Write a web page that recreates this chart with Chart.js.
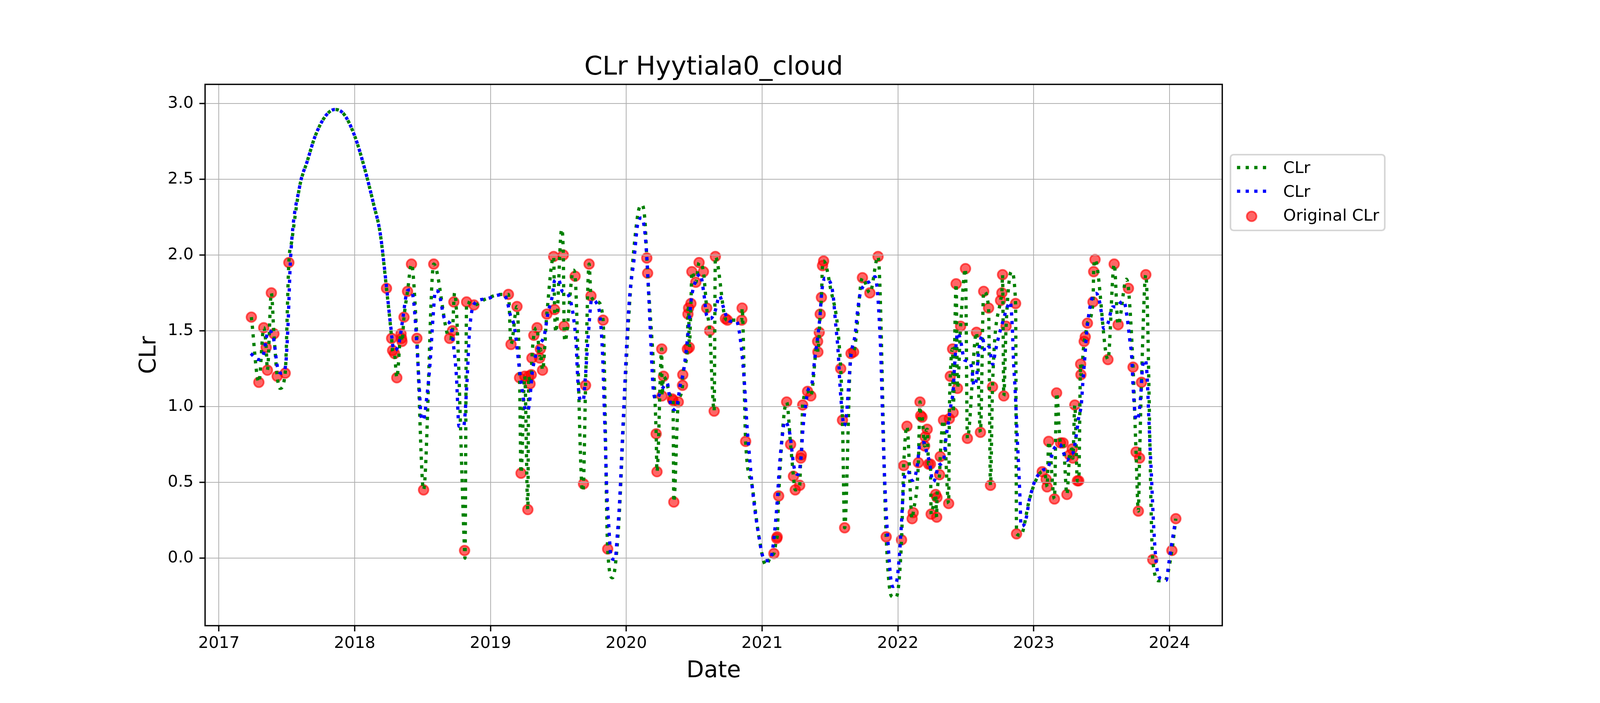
<!DOCTYPE html>
<html>
<head>
<meta charset="utf-8">
<title>CLr Hyytiala0_cloud</title>
<script src="https://cdn.jsdelivr.net/npm/chart.js@4.4.1/dist/chart.umd.min.js"></script>
<style>
  html, body { margin: 0; padding: 0; background: #ffffff; }
  canvas { display: block; }
</style>
</head>
<body>
<canvas id="clr-chart" width="4200" height="1800"></canvas>
<script>
// Original CLr samples, dates as decimal years
const origDates = [
  2017.239, 2017.294, 2017.330, 2017.348, 2017.357, 2017.386, 2017.405, 2017.429, 2017.488, 2017.515,
  2018.234, 2018.272, 2018.279, 2018.293, 2018.310, 2018.341, 2018.345, 2018.348, 2018.363, 2018.389,
  2018.418, 2018.458, 2018.507, 2018.582, 2018.699, 2018.720, 2018.730, 2018.809, 2018.824, 2018.878,
  2019.132, 2019.151, 2019.195, 2019.214, 2019.225, 2019.252, 2019.275, 2019.281, 2019.291, 2019.300,
  2019.305, 2019.319, 2019.343, 2019.362, 2019.367, 2019.383, 2019.415, 2019.465, 2019.472, 2019.536,
  2019.542, 2019.623, 2019.685, 2019.700, 2019.726, 2019.740, 2019.829, 2019.863,
  2020.151, 2020.157, 2020.220, 2020.226, 2020.261, 2020.263, 2020.274, 2020.339, 2020.344, 2020.350,
  2020.383, 2020.414, 2020.416, 2020.450, 2020.454, 2020.459, 2020.464, 2020.476, 2020.483, 2020.512,
  2020.536, 2020.568, 2020.592, 2020.614, 2020.647, 2020.656, 2020.730, 2020.745, 2020.850, 2020.853, 2020.879,
  2021.087, 2021.108, 2021.111, 2021.122, 2021.181, 2021.210, 2021.231, 2021.244, 2021.277, 2021.285,
  2021.289, 2021.299, 2021.335, 2021.359, 2021.409, 2021.411, 2021.421, 2021.428, 2021.437, 2021.445,
  2021.453, 2021.579, 2021.592, 2021.608, 2021.655, 2021.674, 2021.739, 2021.794, 2021.854, 2021.914,
  2022.027, 2022.043, 2022.067, 2022.105, 2022.113, 2022.151, 2022.163, 2022.168, 2022.178, 2022.197,
  2022.201, 2022.216, 2022.226, 2022.240, 2022.245, 2022.278, 2022.286, 2022.288, 2022.307, 2022.312,
  2022.336, 2022.374, 2022.379, 2022.386, 2022.403, 2022.407, 2022.429, 2022.439, 2022.462, 2022.498,
  2022.512, 2022.579, 2022.608, 2022.632, 2022.668, 2022.682, 2022.697, 2022.756, 2022.766, 2022.771,
  2022.780, 2022.797, 2022.867, 2022.874,
  2023.063, 2023.092, 2023.099, 2023.111, 2023.153, 2023.169, 2023.198, 2023.217, 2023.245, 2023.265,
  2023.284, 2023.289, 2023.303, 2023.322, 2023.332, 2023.346, 2023.348, 2023.372, 2023.380, 2023.396,
  2023.437, 2023.442, 2023.452, 2023.547, 2023.593, 2023.622, 2023.698, 2023.732, 2023.754, 2023.771,
  2023.780, 2023.794, 2023.826, 2023.877,
  2024.018, 2024.047
];
const origValues = [
  1.59, 1.16, 1.52, 1.39, 1.24, 1.75, 1.48, 1.20, 1.22, 1.95,
  1.78, 1.45, 1.37, 1.35, 1.19, 1.48, 1.45, 1.43, 1.59, 1.76,
  1.94, 1.45, 0.45, 1.94, 1.45, 1.50, 1.69, 0.05, 1.69, 1.67,
  1.74, 1.41, 1.66, 1.19, 0.56, 1.20, 0.32, 1.20, 1.15, 1.21,
  1.32, 1.47, 1.52, 1.32, 1.38, 1.24, 1.61, 1.99, 1.64, 2.00,
  1.53, 1.86, 0.49, 1.14, 1.94, 1.73, 1.57, 0.06,
  1.98, 1.88, 0.82, 0.57, 1.38, 1.07, 1.20, 1.05, 1.04, 0.37,
  1.03, 1.14, 1.21, 1.38, 1.61, 1.65, 1.39, 1.68, 1.89, 1.82,
  1.95, 1.89, 1.65, 1.50, 0.97, 1.99, 1.58, 1.57, 1.57, 1.65, 0.77,
  0.03, 0.13, 0.14, 0.41, 1.03, 0.75, 0.54, 0.45, 0.48, 0.66,
  0.68, 1.01, 1.10, 1.07, 1.43, 1.36, 1.49, 1.61, 1.72, 1.93,
  1.96, 1.25, 0.91, 0.20, 1.35, 1.36, 1.85, 1.75, 1.99, 0.14,
  0.12, 0.61, 0.87, 0.26, 0.30, 0.63, 1.03, 0.94, 0.93, 0.74,
  0.80, 0.85, 0.62, 0.62, 0.29, 0.42, 0.27, 0.40, 0.55, 0.67,
  0.91, 0.36, 0.92, 1.20, 1.38, 0.96, 1.81, 1.12, 1.53, 1.91,
  0.79, 1.49, 0.83, 1.76, 1.65, 0.48, 1.13, 1.70, 1.75, 1.87,
  1.07, 1.53, 1.68, 0.16,
  0.57, 0.52, 0.47, 0.77, 0.39, 1.09, 0.76, 0.76, 0.42, 0.68,
  0.72, 0.66, 1.01, 0.51, 0.51, 1.28, 1.21, 1.43, 1.46, 1.55,
  1.69, 1.89, 1.97, 1.31, 1.94, 1.54, 1.78, 1.26, 0.70, 0.31,
  0.66, 1.16, 1.87, -0.01,
  0.05, 0.26
];

// Extra turning points of the green curve (where it swings away from the samples)
const greenBendDates = [
  2017.450, 2017.536, 2017.594, 2017.651, 2017.709, 2017.785, 2017.853, 2017.920, 2018.000, 2018.073,
  2018.140, 2018.188, 2018.735, 2018.812, 2018.965, 2019.080, 2019.481, 2019.524, 2019.548, 2019.611,
  2019.678, 2019.790, 2019.898, 2019.942, 2019.980, 2020.018, 2020.057, 2020.095, 2020.117, 2020.138,
  2020.927, 2020.975, 2021.028, 2021.071, 2021.500, 2021.952, 2021.986, 2022.835, 2022.905, 2022.967,
  2023.010, 2023.683, 2023.923, 2023.966
];
const greenBendValues = [
  1.12, 2.09, 2.45, 2.62, 2.785, 2.917, 2.96, 2.93, 2.785, 2.571,
  2.332, 2.141, 1.75, 0.00, 1.71, 1.74, 1.49, 2.17, 1.43, 1.90,
  0.44, 1.69, -0.13, 0.19, 0.91, 1.59, 2.05, 2.31, 2.33, 2.22,
  0.475, 0.15, -0.045, 0.02, 1.80, -0.25, -0.26, 1.89, 0.15, 0.38,
  0.50, 1.84, -0.15, -0.15
];

// Smoother blue curve, read along its path
const blueDates = [
  2017.235, 2017.287, 2017.326, 2017.364, 2017.402, 2017.431, 2017.460, 2017.489, 2017.508, 2017.527,
  2017.594, 2017.651, 2017.709, 2017.785, 2017.853, 2017.920, 2018.000, 2018.073, 2018.140, 2018.188,
  2018.234, 2018.265, 2018.289, 2018.327, 2018.351, 2018.389, 2018.408, 2018.432, 2018.452, 2018.471,
  2018.490, 2018.504, 2018.533, 2018.557, 2018.576, 2018.595, 2018.619, 2018.663, 2018.706, 2018.730,
  2018.749, 2018.768, 2018.802, 2018.826, 2018.845, 2018.878, 2018.965, 2019.080, 2019.118, 2019.147,
  2019.175, 2019.214, 2019.233, 2019.262, 2019.281, 2019.310, 2019.358, 2019.396, 2019.424, 2019.453,
  2019.472, 2019.500, 2019.529, 2019.558, 2019.587, 2019.611, 2019.630, 2019.644, 2019.663, 2019.683,
  2019.697, 2019.721, 2019.745, 2019.779, 2019.807, 2019.826, 2019.836, 2019.846, 2019.855, 2019.870,
  2019.889, 2019.918, 2019.932, 2019.951, 2019.970, 2019.989, 2020.009, 2020.028, 2020.057, 2020.085,
  2020.112, 2020.133, 2020.148, 2020.162, 2020.181, 2020.200, 2020.220, 2020.267, 2020.301, 2020.325,
  2020.354, 2020.373, 2020.397, 2020.421, 2020.440, 2020.459, 2020.478, 2020.507, 2020.544, 2020.572,
  2020.592, 2020.620, 2020.654, 2020.687, 2020.711, 2020.735, 2020.764, 2020.812, 2020.831, 2020.850,
  2020.870, 2020.889, 2020.908, 2020.927, 2020.946, 2020.975, 2020.999, 2021.023, 2021.042, 2021.071,
  2021.090, 2021.109, 2021.128, 2021.148, 2021.167, 2021.186, 2021.205, 2021.234, 2021.263, 2021.287,
  2021.301, 2021.320, 2021.339, 2021.368, 2021.387, 2021.407, 2021.426, 2021.440, 2021.464, 2021.493,
  2021.522, 2021.541, 2021.560, 2021.574, 2021.589, 2021.603, 2021.622, 2021.637, 2021.656, 2021.684,
  2021.703, 2021.722, 2021.751, 2021.799, 2021.832, 2021.851, 2021.866, 2021.875, 2021.885, 2021.899,
  2021.914, 2021.928, 2021.947, 2021.962, 2021.990, 2022.010, 2022.024, 2022.038, 2022.058, 2022.086,
  2022.105, 2022.125, 2022.144, 2022.163, 2022.192, 2022.211, 2022.230, 2022.259, 2022.278, 2022.297,
  2022.336, 2022.355, 2022.374, 2022.393, 2022.407, 2022.417, 2022.441, 2022.465, 2022.489, 2022.526,
  2022.546, 2022.560, 2022.579, 2022.593, 2022.622, 2022.641, 2022.670, 2022.699, 2022.718, 2022.747,
  2022.780, 2022.800, 2022.828, 2022.843, 2022.852, 2022.862, 2022.872, 2022.881, 2022.891, 2022.900,
  2022.907, 2022.929, 2022.948, 2022.967, 2022.987, 2023.006, 2023.035, 2023.073, 2023.102, 2023.126,
  2023.150, 2023.193, 2023.217, 2023.245, 2023.274, 2023.293, 2023.313, 2023.332, 2023.351, 2023.362,
  2023.377, 2023.391, 2023.410, 2023.430, 2023.458, 2023.477, 2023.497, 2023.516, 2023.545, 2023.583,
  2023.612, 2023.640, 2023.664, 2023.688, 2023.708, 2023.722, 2023.732, 2023.741, 2023.756, 2023.775,
  2023.789, 2023.803, 2023.823, 2023.837, 2023.847, 2023.856, 2023.866, 2023.875, 2023.885, 2023.899,
  2023.918, 2023.947, 2023.976, 2023.995, 2024.014, 2024.034, 2024.043
];
const blueValues = [
  1.35, 1.31, 1.34, 1.50, 1.45, 1.26, 1.22, 1.26, 1.52, 1.97,
  2.45, 2.62, 2.785, 2.917, 2.96, 2.93, 2.785, 2.571, 2.332, 2.141,
  1.79, 1.53, 1.37, 1.42, 1.56, 1.765, 1.77, 1.71, 1.49, 1.20,
  0.93, 0.91, 1.08, 1.31, 1.58, 1.765, 1.75, 1.575, 1.54, 1.385,
  1.20, 0.87, 0.87, 1.15, 1.49, 1.675, 1.71, 1.738, 1.71, 1.60,
  1.53, 1.24, 1.11, 0.97, 0.99, 1.24, 1.40, 1.47, 1.62, 1.72,
  1.83, 1.84, 1.76, 1.75, 1.705, 1.59, 1.42, 1.16, 1.04, 1.04,
  1.175, 1.48, 1.705, 1.686, 1.59, 1.33, 1.04, 0.76, 0.475, 0.23,
  0.00, -0.01, 0.13, 0.38, 0.76, 1.14, 1.52, 1.76, 1.97, 2.21,
  2.245, 2.18, 2.03, 1.80, 1.42, 1.10, 1.05, 1.12, 1.156, 1.02,
  0.98, 1.005, 1.14, 1.23, 1.36, 1.52, 1.705, 1.82, 1.875, 1.74,
  1.60, 1.58, 1.63, 1.73, 1.667, 1.60, 1.563, 1.563, 1.50, 1.364,
  1.156, 0.872, 0.664, 0.475, 0.324, 0.153, 0.03, -0.017, -0.017, 0.021,
  0.153, 0.343, 0.607, 0.797, 0.901, 0.882, 0.816, 0.607, 0.551, 0.664,
  0.853, 1.005, 1.109, 1.156, 1.308, 1.44, 1.592, 1.762, 1.847, 1.834,
  1.743, 1.554, 1.364, 1.137, 0.967, 0.872, 0.948, 1.137, 1.346, 1.469,
  1.63, 1.743, 1.80, 1.828, 1.857, 1.743, 1.516, 1.327, 1.005, 0.607,
  0.305, 0.097, -0.13, -0.187, -0.159, 0.002, 0.191, 0.418, 0.57, 0.56,
  0.513, 0.532, 0.617, 0.759, 0.763, 0.702, 0.645, 0.503, 0.532, 0.607,
  0.645, 0.797, 0.91, 1.024, 1.10, 1.26, 1.488, 1.421, 1.308, 1.298,
  1.241, 1.137, 1.185, 1.346, 1.469, 1.364, 1.393, 1.279, 1.364, 1.478,
  1.582, 1.643, 1.69, 1.516, 1.289, 1.137, 0.948, 0.759, 0.57, 0.38,
  0.21, 0.22, 0.276, 0.38, 0.447, 0.503, 0.551, 0.583, 0.589, 0.655,
  0.721, 0.75, 0.702, 0.645, 0.683, 0.702, 0.806, 0.93, 1.014, 1.156,
  1.327, 1.497, 1.63, 1.715, 1.747, 1.724, 1.63, 1.516, 1.544, 1.658,
  1.658, 1.686, 1.696, 1.59, 1.44, 1.327, 1.137, 1.005, 0.91, 0.948,
  1.08, 1.27, 1.308, 1.175, 0.948, 0.759, 0.57, 0.38, 0.19, 0.002,
  -0.112, -0.14, -0.146, -0.036, 0.078, 0.19, 0.236
];

const xTickYears = [2017, 2018, 2019, 2020, 2021, 2022, 2023, 2024];
const yTickValues = [0.0, 0.5, 1.0, 1.5, 2.0, 2.5, 3.0];

const FONT = "'DejaVu Sans', 'Liberation Sans', sans-serif";
const PT = 300 / 72; // the figure is drawn at 300 dpi
const DOT_DASH = [2 * PT, 3.3 * PT];
const GRID_COLOR = "#b0b0b0";
const GRID_WIDTH = 2;

// Plot box inside the 4200 x 1800 canvas
const BOX = { left: 525, right: 3129, top: 216, bottom: 1602 };
const Y_AXIS_WIDTH = 200;
const X_AXIS_HEIGHT = 150;

const toPoints = (xs, ys) => xs.map((x, i) => ({ x: x, y: ys[i] }));

const greenPoints = toPoints(origDates, origValues)
  .concat(toPoints(greenBendDates, greenBendValues))
  .sort((a, b) => a.x - b.x);

// Frame, titles and the legend box drawn the way matplotlib places them
const decorPlugin = {
  id: "decor",
  // matplotlib puts the grid above the scatter but under the lines
  afterDatasetDraw(chart, args) {
    if (args.index !== 2) return;
    const ctx = chart.ctx;
    const area = chart.chartArea;
    ctx.save();
    ctx.strokeStyle = GRID_COLOR;
    ctx.lineWidth = GRID_WIDTH;
    ctx.beginPath();
    xTickYears.forEach((v) => {
      const px = Math.round(chart.scales.x.getPixelForValue(v));
      ctx.moveTo(px, area.top);
      ctx.lineTo(px, area.bottom);
    });
    yTickValues.forEach((v) => {
      const py = Math.round(chart.scales.y.getPixelForValue(v));
      ctx.moveTo(area.left, py);
      ctx.lineTo(area.right, py);
    });
    ctx.stroke();
    ctx.restore();
  },
  afterDraw(chart) {
    const ctx = chart.ctx;
    const area = chart.chartArea;
    ctx.save();

    ctx.strokeStyle = "#000";
    ctx.lineWidth = 0.8 * PT;
    ctx.strokeRect(area.left, area.top, area.right - area.left, area.bottom - area.top);

    const midX = (area.left + area.right) / 2;
    ctx.fillStyle = "#000";
    ctx.textAlign = "center";
    ctx.textBaseline = "alphabetic";
    ctx.font = `${16 * PT}px ${FONT}`;
    ctx.fillText("CLr Hyytiala0_cloud", midX, area.top - 25);

    ctx.font = `${14 * PT}px ${FONT}`;
    ctx.fillText("Date", midX, 1734);

    ctx.save();
    ctx.translate(398, (area.top + area.bottom) / 2);
    ctx.rotate(-Math.PI / 2);
    ctx.fillText("CLr", 0, 0);
    ctx.restore();

    // legend
    const lx = 3150, ly = 396, lw = 395, lh = 194, r = 8;
    ctx.beginPath();
    ctx.moveTo(lx + r, ly);
    ctx.arcTo(lx + lw, ly, lx + lw, ly + lh, r);
    ctx.arcTo(lx + lw, ly + lh, lx, ly + lh, r);
    ctx.arcTo(lx, ly + lh, lx, ly, r);
    ctx.arcTo(lx, ly, lx + lw, ly, r);
    ctx.closePath();
    ctx.fillStyle = "rgba(255,255,255,0.8)";
    ctx.fill();
    ctx.strokeStyle = "#d6d6d6";
    ctx.lineWidth = PT;
    ctx.stroke();

    const handleX0 = 3166.7, handleX1 = 3241.7;
    const rows = [
      { type: "line", color: "#008000", y: 429, text: "CLr", base: 443.3 },
      { type: "line", color: "#0000ff", y: 489.7, text: "CLr", base: 504 },
      { type: "dot", y: 554, text: "Original CLr", base: 565 }
    ];
    rows.forEach((row) => {
      if (row.type === "line") {
        ctx.beginPath();
        ctx.setLineDash(DOT_DASH);
        ctx.lineCap = "butt";
        ctx.lineWidth = 2 * PT;
        ctx.strokeStyle = row.color;
        ctx.moveTo(handleX0, row.y);
        ctx.lineTo(handleX1, row.y);
        ctx.stroke();
        ctx.setLineDash([]);
      } else {
        ctx.beginPath();
        ctx.arc((handleX0 + handleX1) / 2, row.y, 3 * PT, 0, Math.PI * 2);
        ctx.fillStyle = "rgba(255,0,0,0.6)";
        ctx.fill();
        ctx.lineWidth = PT;
        ctx.strokeStyle = "rgba(255,0,0,0.6)";
        ctx.stroke();
      }
      ctx.fillStyle = "#000";
      ctx.textAlign = "left";
      ctx.font = `${10 * PT}px ${FONT}`;
      ctx.fillText(row.text, 3285, row.base);
    });

    ctx.restore();
  }
};

const axisGrid = {
  color: GRID_COLOR,
  lineWidth: GRID_WIDTH,
  tickColor: "#000",
  tickWidth: 0.8 * PT,
  tickLength: 3.5 * PT
};

new Chart(document.getElementById("clr-chart"), {
  type: "line",
  data: {
    datasets: [
      {
        label: "CLr",
        data: greenPoints,
        borderColor: "#008000",
        borderWidth: 2 * PT,
        borderDash: DOT_DASH,
        borderCapStyle: "butt",
        pointRadius: 0,
        fill: false,
        cubicInterpolationMode: "monotone",
        order: 1
      },
      {
        label: "CLr",
        data: toPoints(blueDates, blueValues),
        borderColor: "#0000ff",
        borderWidth: 2 * PT,
        borderDash: DOT_DASH,
        borderCapStyle: "butt",
        pointRadius: 0,
        fill: false,
        cubicInterpolationMode: "monotone",
        order: 0
      },
      {
        type: "scatter",
        label: "Original CLr",
        data: toPoints(origDates, origValues),
        showLine: false,
        backgroundColor: "rgba(255,0,0,0.6)",
        borderColor: "rgba(255,0,0,0.6)",
        pointRadius: 3 * PT,
        pointBorderWidth: PT,
        pointBackgroundColor: "rgba(255,0,0,0.6)",
        pointBorderColor: "rgba(255,0,0,0.6)",
        order: 2
      }
    ]
  },
  options: {
    responsive: false,
    animation: false,
    devicePixelRatio: 1,
    layout: {
      padding: {
        left: BOX.left - Y_AXIS_WIDTH,
        right: 4200 - BOX.right,
        top: BOX.top,
        bottom: 1800 - BOX.bottom - X_AXIS_HEIGHT
      }
    },
    plugins: {
      legend: { display: false },
      title: { display: false },
      tooltip: { enabled: false }
    },
    scales: {
      x: {
        type: "linear",
        min: 2016.898,
        max: 2024.389,
        afterBuildTicks: (scale) => {
          scale.ticks = xTickYears.map((v) => ({ value: v }));
        },
        afterFit: (scale) => {
          scale.height = X_AXIS_HEIGHT;
        },
        ticks: {
          autoSkip: false,
          maxRotation: 0,
          padding: 7,
          color: "#000",
          font: { family: FONT, size: 10 * PT },
          callback: (v) => String(v)
        },
        grid: axisGrid,
        border: { display: false }
      },
      y: {
        min: -0.446,
        max: 3.126,
        afterBuildTicks: (scale) => {
          scale.ticks = yTickValues.map((v) => ({ value: v }));
        },
        afterFit: (scale) => {
          scale.width = Y_AXIS_WIDTH;
        },
        ticks: {
          padding: 15,
          color: "#000",
          font: { family: FONT, size: 10 * PT },
          callback: (v) => Number(v).toFixed(1)
        },
        grid: axisGrid,
        border: { display: false }
      }
    }
  },
  plugins: [decorPlugin]
});
</script>
</body>
</html>
